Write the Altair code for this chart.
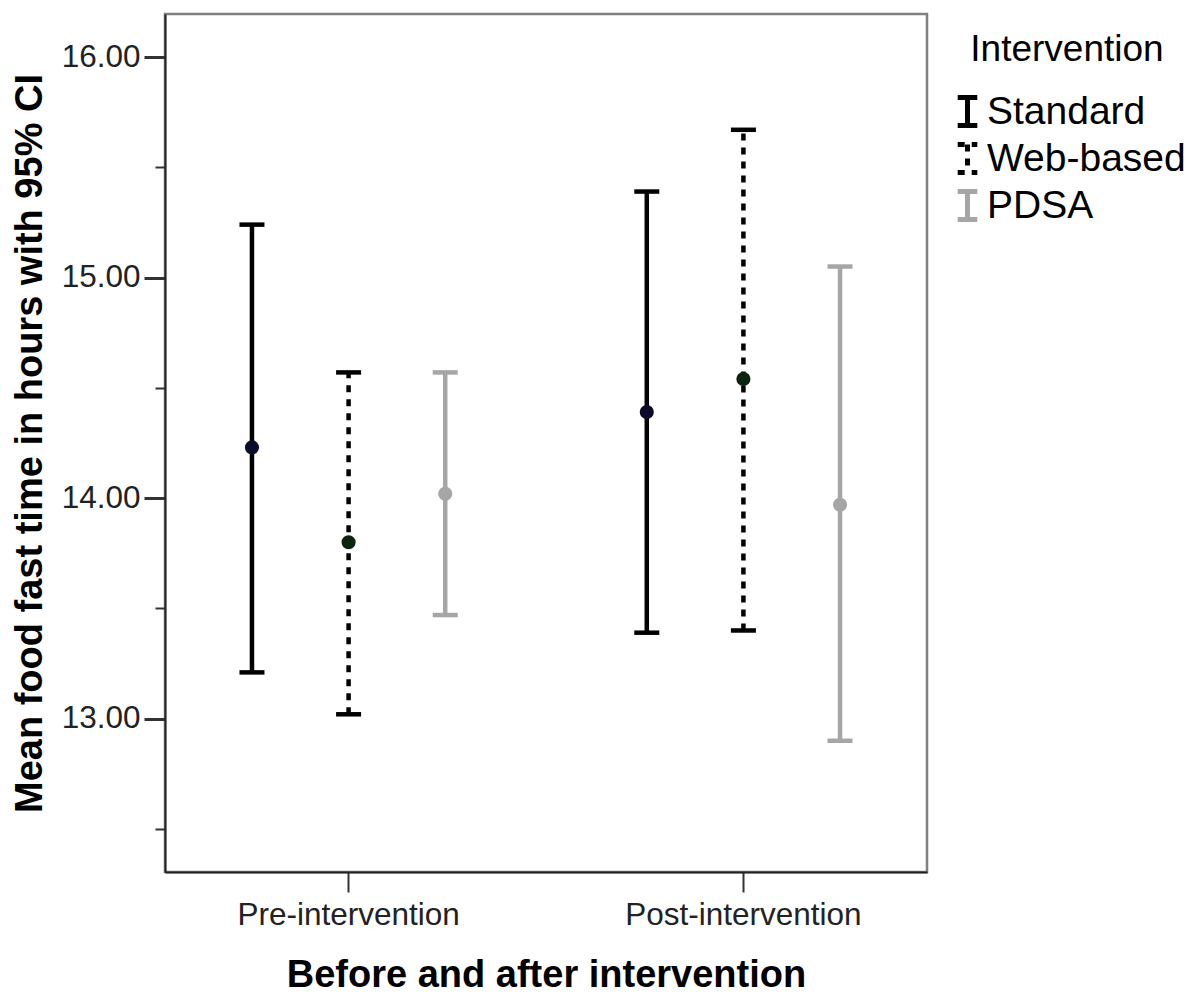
import altair as alt
import pandas as pd

periods = ["Pre-intervention", "Post-intervention"]
groups = ["Standard", "Web-based", "PDSA"]

# values per period, in group order
mean_pre = [14.23, 13.80, 14.02]
mean_post = [14.39, 14.54, 13.97]
lower_pre = [13.21, 13.02, 13.47]
lower_post = [13.39, 13.40, 12.90]
upper_pre = [15.24, 14.57, 14.57]
upper_post = [15.39, 15.67, 15.05]

y_ticks = [12.5, 13.0, 13.5, 14.0, 14.5, 15.0, 15.5, 16.0]

rows = []
for p, means, lows, ups in [
    (periods[0], mean_pre, lower_pre, upper_pre),
    (periods[1], mean_post, lower_post, upper_post),
]:
    for g, m, lo, up in zip(groups, means, lows, ups):
        rows.append({"period": p, "group": g, "mean": m, "lower": lo, "upper": up})
df = pd.DataFrame(rows)

FONT = "Liberation Sans"
line_colors = ["#000000", "#000000", "#a6a6a6"]
dot_colors = ["#0b0b2e", "#0b2410", "#a6a6a6"]

ysc = alt.Scale(domain=[12.305, 16.195], nice=False, zero=False)

base = alt.Chart(df).encode(
    x=alt.X(
        "period:N",
        sort=periods,
        scale=alt.Scale(paddingInner=0.07, paddingOuter=0),
        axis=alt.Axis(
            title="Before and after intervention",
            labelAngle=0,
            labelLimit=0,
            tickSize=20,
            tickWidth=2,
            tickColor="#333333",
            labelFont=FONT,
            labelFontSize=31.5,
            labelColor="#222222",
            labelPadding=7,
            titleFont=FONT,
            titleFontSize=38,
            titleFontWeight="bold",
            titleColor="#000000",
            titlePadding=26,
            domainColor="#222222",
            domainWidth=2,
        ),
    ),
    xOffset=alt.XOffset(
        "group:N", sort=groups, scale=alt.Scale(paddingInner=0, paddingOuter=0.4)
    ),
)

rules = base.mark_rule(strokeWidth=4.5).encode(
    y=alt.Y(
        "lower:Q",
        scale=ysc,
        axis=alt.Axis(
            title="Mean food fast time in hours with 95% CI",
            values=y_ticks,
            labelExpr="datum.value % 1 === 0 ? format(datum.value, '.2f') : ''",
            tickSize={"condition": {"test": "datum.value % 1 === 0", "value": 21}, "value": 10},
            tickWidth={"condition": {"test": "datum.value % 1 === 0", "value": 3}, "value": 2},
            tickColor="#333333",
            labelFont=FONT,
            labelFontSize=31.5,
            labelColor="#222222",
            labelPadding=4,
            titleFont=FONT,
            titleFontSize=38,
            titleFontWeight="bold",
            titleColor="#000000",
            titlePadding=12,
            domainColor="#222222",
            domainWidth=2,
            grid=False,
        ),
    ),
    y2="upper:Q",
    stroke=alt.Stroke(
        "group:N",
        sort=groups,
        scale=alt.Scale(domain=groups, range=line_colors),
        legend=alt.Legend(title="Intervention"),
    ),
    strokeDash=alt.StrokeDash(
        "group:N",
        sort=groups,
        scale=alt.Scale(domain=groups, range=[[1, 0], [7, 7], [1, 0]]),
        legend=alt.Legend(title="Intervention"),
    ),
)

cap_lo = base.mark_tick(thickness=4.5, size=25, opacity=1).encode(
    y=alt.Y("lower:Q", scale=ysc),
    color=alt.Color("group:N", scale=alt.Scale(domain=groups, range=line_colors), legend=None),
)
cap_hi = base.mark_tick(thickness=4.5, size=25, opacity=1).encode(
    y=alt.Y("upper:Q", scale=ysc),
    color=alt.Color("group:N", scale=alt.Scale(domain=groups, range=line_colors), legend=None),
)

dots = base.mark_point(filled=True, size=200, opacity=1).encode(
    y=alt.Y("mean:Q", scale=ysc),
    fill=alt.Fill("group:N", scale=alt.Scale(domain=groups, range=dot_colors), legend=None),
)

chart = (
    alt.layer(rules, cap_lo, cap_hi, dots)
    .properties(
        width=762,
        height=858,
        padding={"left": 3, "top": 6, "right": 5, "bottom": 5},
    )
    .configure_view(stroke="#808080", strokeWidth=2.5)
    .configure_legend(
        orient="none",
        legendX=783,
        legendY=18,
        titleFont=FONT,
        titleFontSize=37,
        titleFontWeight="normal",
        titleColor="#000000",
        titleAnchor="middle",
        titlePadding=23,
        titleLimit=0,
        labelFont=FONT,
        labelFontSize=39,
        labelColor="#000000",
        labelOffset=0,
        labelLimit=0,
        symbolType="M-0.7,-1H0.7M0,-1V1M-0.7,1H0.7",
        symbolSize=784,
        symbolStrokeWidth=5,
        rowPadding=-2,
        symbolLimit=0,
    )
)

chart.save("out.html", embed_options={"renderer": "svg", "actions": False})
